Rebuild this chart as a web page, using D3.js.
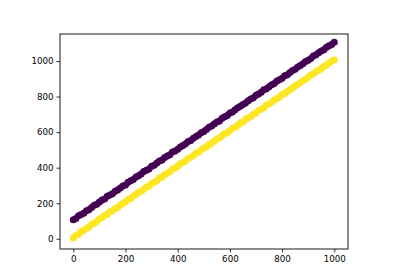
<!DOCTYPE html>
<head>
<meta charset="UTF-8">
<title>scatter</title>
<script src="https://cdn.jsdelivr.net/npm/d3@7"></script>
<style>
body { margin:0; background:#fff; }
text { font-family:"DejaVu Sans", sans-serif; font-size:8.7px; fill:#000; }
</style>
</head>
<body>
<div id="chart"></div>
<script>
// x positions shared by both series
var xs = [0,10,20,30,40,50,60,70,80,90,100,110,120,130,140,150,160,170,180,190,
  200,210,220,230,240,250,260,270,280,290,300,310,320,330,340,350,360,370,380,390,
  400,410,420,430,440,450,460,470,480,490,500,510,520,530,540,550,560,570,580,590,
  600,610,620,630,640,650,660,670,680,690,700,710,720,730,740,750,760,770,780,790,
  800,810,820,830,840,850,860,870,880,890,900,910,920,930,940,950,960,970,980,990,1000];

var yellowY = [5,18,24,41,47,58,66,82,88,97,112,119,131,138,152,157,171,176,190,198,
  209,221,226,240,249,262,267,279,291,296,311,318,327,342,347,361,368,377,392,398,
  408,422,429,437,452,458,469,481,487,499,511,516,531,538,548,561,567,579,592,597,
  609,622,628,639,651,657,672,679,688,701,707,721,729,737,752,758,768,781,789,798,
  812,817,830,839,848,861,868,878,891,897,909,921,927,941,948,957,971,978,988,1001,1006];

var purpleY = [107,114,129,136,144,158,163,176,188,194,207,218,224,239,246,254,268,274,286,297,
  303,318,326,333,348,354,364,378,385,393,408,414,426,437,443,457,466,473,488,494,
  503,517,525,534,547,553,566,576,584,597,604,615,628,634,646,657,663,678,686,694,
  708,713,726,737,745,756,764,777,786,793,808,815,824,838,844,855,867,874,887,895,
  903,917,923,936,947,953,966,975,984,997,1004,1014,1028,1035,1046,1057,1063,1077,1086,1093,1106];

var ticks = [0,200,400,600,800,1000];

var width=400, height=280;
var mLeft=60, mRight=348, mTop=34, mBottom=249;

var svg=d3.select("#chart").append("svg").attr("width",width).attr("height",height);

var x=d3.scaleLinear().domain([-51.0,1052.5]).range([mLeft,mRight]);
var y=d3.scaleLinear().domain([-57.5,1152]).range([mBottom,mTop]);

var pts=[];
for (var i=0;i<xs.length;i++){
  pts.push({x:xs[i], y:purpleY[i], c:"#440154"});
}
for (var i=0;i<xs.length;i++){
  pts.push({x:xs[i], y:yellowY[i], c:"#fde725"});
}

svg.append("g").selectAll("circle").data(pts).enter().append("circle")
  .attr("cx",function(d){return x(d.x);})
  .attr("cy",function(d){return y(d.y);})
  .attr("r",3.5)
  .attr("fill",function(d){return d.c;});

// frame
svg.append("rect")
  .attr("x",mLeft).attr("y",mTop)
  .attr("width",mRight-mLeft).attr("height",mBottom-mTop)
  .attr("fill","none").attr("stroke","#000").attr("stroke-width",0.9);

var xa=svg.append("g").attr("transform","translate(0,"+mBottom+")")
  .call(d3.axisBottom(x).tickValues(ticks).tickSize(3.5).tickPadding(3).tickFormat(d3.format("d")));
var ya=svg.append("g").attr("transform","translate("+mLeft+",0)")
  .call(d3.axisLeft(y).tickValues(ticks).tickSize(3.5).tickPadding(3).tickFormat(d3.format("d")));

[xa,ya].forEach(function(a){
  a.select(".domain").remove();
  a.selectAll("line").attr("stroke","#000").attr("stroke-width",0.8);
  a.selectAll("text").attr("font-family",null).attr("font-size",null).attr("fill","#000");
});
</script>
</body>
</html>
